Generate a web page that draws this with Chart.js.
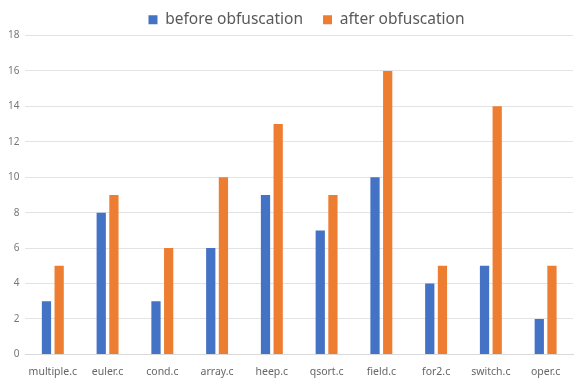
<!DOCTYPE html>
<html><head><meta charset="utf-8">
<script src="https://cdn.jsdelivr.net/npm/chart.js@4"></script>
<style>html,body{margin:0;padding:0;background:#fff}#wrap{width:576px;height:378px}</style>
</head><body><div id="wrap"><canvas id="c" width="576" height="378"></canvas></div>
<script>
const categories = ["multiple.c","euler.c","cond.c","array.c","heep.c","qsort.c","field.c","for2.c","switch.c","oper.c"];
const beforeValues = [3,8,3,6,9,7,10,4,5,2];
const afterValues = [5,9,6,10,13,9,16,5,14,5];
const yTicks = [0,2,4,6,8,10,12,14,16,18];

const legendShift = {
  id: 'legendShift',
  afterLayout(chart) {
    const lg = chart.legend;
    lg.left += 19; lg.right += 19; lg.top += 2; lg.bottom += 2;
  }
};

new Chart(document.getElementById('c'), {
  type: 'bar',
  data: {
    labels: categories,
    datasets: [
      {label: 'before obfuscation', data: beforeValues, backgroundColor: '#4472C4', barPercentage: 0.73, categoryPercentage: 0.463},
      {label: 'after obfuscation', data: afterValues, backgroundColor: '#ED7D31', barPercentage: 0.73, categoryPercentage: 0.463}
    ]
  },
  plugins: [legendShift],
  options: {
    responsive: false,
    animation: false,
    layout: {padding: {left: 2, right: 3, top: -10, bottom: -11}},
    plugins: {
      legend: {
        labels: {boxWidth: 9, boxHeight: 9, color: '#595959', font: {family: 'Noto Sans', size: 15.5}, padding: 20}
      },
      tooltip: {enabled: false}
    },
    scales: {
      x: {
        grid: {display: false, drawTicks: false},
        border: {color: '#d9d9d9'},
        ticks: {color: '#666666', font: {family: 'Noto Sans', size: 10.5}, maxRotation: 0, autoSkip: false, padding: 11}
      },
      y: {
        min: 0, max: 18,
        afterBuildTicks: (s) => { s.ticks = yTicks.map(v => ({value: v})); },
        grid: {color: '#e3e3e3', drawTicks: false},
        border: {display: false},
        ticks: {color: '#777777', font: {family: 'Noto Sans', size: 10}, padding: 6}
      }
    }
  }
});
</script></body></html>
